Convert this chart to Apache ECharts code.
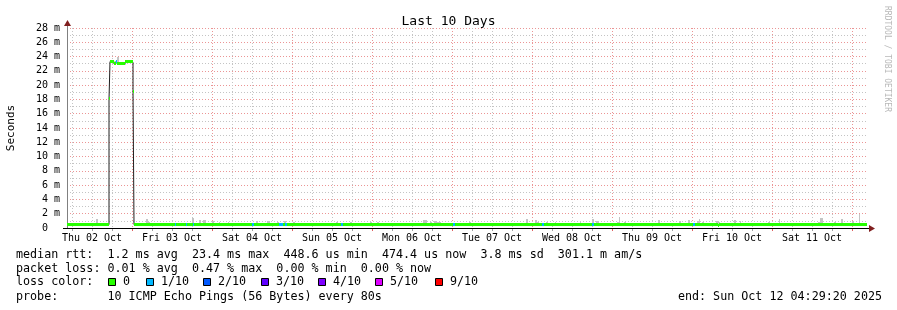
<!DOCTYPE html>
<html><head><meta charset="utf-8">
<script src="https://cdn.jsdelivr.net/npm/echarts@6/dist/echarts.min.js"></script>
<style>html,body{margin:0;padding:0;background:#fff}#c{width:897px;height:310px}</style>
</head><body><div id="c"></div>
<script>
// ---- data (x in hours since graph start, Thu 02 Oct 04:29:20) ----
const startClockHours = 4 + 29/60 + 20/3600;
const spanHours = 240;
const dayLabels = ['Thu 02 Oct','Fri 03 Oct','Sat 04 Oct','Sun 05 Oct','Mon 06 Oct','Tue 07 Oct','Wed 08 Oct','Thu 09 Oct','Fri 10 Oct','Sat 11 Oct'];
const yTickValues = [0,2,4,6,8,10,12,14,16,18,20,22,24,26,28];

// median rtt (ms): step segments starting at medianStart, loss index (0 = 0/10, 1 = 1/10)
const medianStart = [0, 12.6, 12.9, 14.1, 14.7, 15.0, 15.9, 17.4, 19.8, 20.1, 32.25, 32.7, 35.55, 36.0, 37.65, 37.95, 55.5, 56.0, 63.6, 64.8, 65.4, 66.0, 82.2, 82.8, 115.7, 116.4, 142.6, 143.0, 157.5, 158.0, 187.8, 188.4, 195.3, 195.6];
const medianValue = [0.47, 18.0, 23.3, 23.0, 23.3, 23.0, 22.9, 23.2, 19.0, 0.47, 0.47, 0.47, 0.47, 0.47, 0.47, 0.47, 0.47, 0.47, 0.47, 0.47, 0.47, 0.47, 0.47, 0.47, 0.47, 0.47, 0.47, 0.47, 0.47, 0.47, 0.47, 0.47, 0.32, 0.47];
const medianLoss  = [0, 0, 0, 0, 1, 0, 0, 0, 0, 0, 1, 0, 1, 0, 1, 0, 1, 0, 1, 0, 1, 0, 1, 0, 1, 0, 1, 0, 1, 0, 1, 0, 0, 0];

// smoke (ping spread): start hour, duration hours, low ms, high ms
const smokeStart = [8.7, 9.3, 15.0, 23.7, 24.3, 37.5, 39.6, 40.8, 43.5, 45.6, 48.3, 56.7, 60.0, 63.0, 65.1, 67.8, 80.7, 84.9, 90.9, 93.0, 106.8, 108.9, 110.1, 110.7, 120.6, 137.7, 140.4, 141.0, 143.7, 146.4, 153.9, 157.5, 158.7, 165.0, 165.6, 167.1, 177.3, 183.6, 186.3, 189.0, 189.6, 190.5, 194.7, 195.3, 200.1, 201.9, 210.3, 213.6, 225.3, 225.9, 230.1, 232.2, 235.5, 237.6];
const smokeSpan  = [0.6, 0.9, 0.6, 0.6, 0.6, 0.6, 0.6, 0.9, 0.6, 0.3, 0.3, 0.6, 0.9, 0.6, 0.6, 0.6, 0.6, 0.6, 0.6, 0.6, 1.2, 0.6, 0.6, 1.5, 0.6, 0.6, 0.6, 0.6, 0.6, 0.3, 0.3, 0.6, 0.9, 0.6, 0.3, 0.6, 0.6, 0.6, 0.6, 0.6, 0.3, 0.6, 0.6, 0.6, 0.6, 0.3, 0.6, 0.3, 0.6, 0.9, 0.6, 0.6, 0.6, 0.3];
const smokeLow   = [0.45, 0.45, 23.0, 0.45, 0.45, 0.45, 0.45, 0.45, 0.45, 0.45, 0.45, 0.45, 0.45, 0.45, 0.45, 0.45, 0.45, 0.45, 0.45, 0.45, 0.45, 0.45, 0.45, 0.45, 0.45, 0.45, 0.45, 0.45, 0.45, 0.45, 0.45, 0.45, 0.45, 0.45, 0.45, 0.45, 0.45, 0.45, 0.45, 0.45, 0.45, 0.45, 0.45, 0.45, 0.45, 0.45, 0.45, 0.45, 0.45, 0.45, 0.45, 0.45, 0.45, 0.45];
const smokeHigh  = [1.26, 0.74, 23.9, 1.26, 0.8, 1.4, 1.12, 1.12, 0.98, 0.8, 0.8, 0.98, 0.98, 0.84, 0.98, 0.84, 0.84, 0.8, 0.8, 0.84, 1.12, 0.8, 0.98, 0.8, 0.84, 1.26, 1.12, 0.84, 0.84, 0.8, 0.8, 1.26, 0.98, 0.84, 1.54, 0.84, 1.12, 0.98, 1.12, 0.98, 1.26, 0.8, 0.98, 0.8, 1.12, 0.98, 0.8, 1.26, 0.84, 1.4, 0.84, 1.26, 0.98, 1.96];

const lossLabels = ['0','1/10','2/10','3/10','4/10','5/10','9/10'];
const lossColors = ['#26ff00','#00b8ff','#0059ff','#5e00ff','#7e00ff','#dd00ff','#ff0000'];

const statsLines = [
  'median rtt:  1.2 ms avg  23.4 ms max  448.6 us min  474.4 us now  3.8 ms sd  301.1 m am/s',
  'packet loss: 0.01 % avg  0.47 % max  0.00 % min  0.00 % now',
  'loss color:',
  'probe:       10 ICMP Echo Pings (56 Bytes) every 80s'
];
const endText = 'end: Sun Oct 12 04:29:20 2025';

// ---- derived ----
const FONT = 'DejaVu Sans Mono';
const segs = medianStart.map((t, i) => [t, i + 1 < medianStart.length ? medianStart[i + 1] : spanHours, medianValue[i], medianLoss[i]]);
const blackLine = [];
segs.forEach(s => { blackLine.push([s[0], s[2]]); blackLine.push([s[1], s[2]]); });
const smokeData = smokeStart.map((t, i) => [t, t + smokeSpan[i], smokeLow[i], smokeHigh[i]]);

const firstMidnight = 24 - startClockHours;
const firstSix = 6 - startClockHours;
const gridData = [];
for (let t = firstSix; t <= spanHours + 1e-6; t += 6) {
  const k = (t - firstMidnight) / 24;
  gridData.push([t, Math.abs(k - Math.round(k)) < 1e-6 ? 1 : 0]);
}
const noonValues = dayLabels.map((_, i) => 12 - startClockHours + 24 * i);

const chart = echarts.init(document.getElementById('c'), null, {renderer: 'canvas'});

const graphics = [];
const rowY = [254.5, 268.5, 282, 296.5];
statsLines.forEach((s, i) => graphics.push({type: 'text', x: 16, y: rowY[i], style: {text: s, font: '11.7px "' + FONT + '"', fill: '#000', verticalAlign: 'middle', align: 'left'}}));
graphics.push({type: 'text', x: 882, y: rowY[3], style: {text: endText, font: '11.7px "' + FONT + '"', fill: '#000', verticalAlign: 'middle', align: 'right'}});
const boxX = [108, 146, 203, 261, 318, 375, 435];
lossLabels.forEach((l, i) => {
  graphics.push({type: 'rect', shape: {x: boxX[i] + 0.5, y: 278.5, width: 7, height: 7}, style: {fill: lossColors[i], stroke: '#000', lineWidth: 1}});
  graphics.push({type: 'text', x: boxX[i] + 15, y: rowY[2], style: {text: l, font: '11.7px "' + FONT + '"', fill: '#000', verticalAlign: 'middle'}});
});
// watermark
graphics.push({type: 'text', x: 887, y: 59, rotation: -Math.PI / 2, style: {text: 'RRDTOOL / TOBI OETIKER', font: '8px "' + FONT + '"', fill: '#b8b8b8', align: 'center', verticalAlign: 'middle'}});
// arrows and axis extensions
graphics.push({type: 'line', shape: {x1: 67.5, y1: 28, x2: 67.5, y2: 24}, style: {stroke: '#808080', lineWidth: 1}});
graphics.push({type: 'polygon', shape: {points: [[64, 26], [71, 26], [67.5, 20]]}, style: {fill: '#801f1f'}});
graphics.push({type: 'line', shape: {x1: 63, y1: 228.5, x2: 67, y2: 228.5}, style: {stroke: '#000', lineWidth: 1}});
graphics.push({type: 'line', shape: {x1: 867, y1: 228.5, x2: 870, y2: 228.5}, style: {stroke: '#000', lineWidth: 1}});
graphics.push({type: 'polygon', shape: {points: [[869, 225], [869, 232], [875, 228.5]]}, style: {fill: '#801f1f'}});

chart.setOption({
  animation: false,
  backgroundColor: '#fff',
  title: {text: 'Last 10 Days', left: 'center', top: 10, textStyle: {fontFamily: FONT, fontSize: 13, fontWeight: 'normal', color: '#000'}},
  grid: {left: 67, right: 30, top: 28, bottom: 82, containLabel: false, outerBoundsMode: 'none'},
  xAxis: {
    type: 'value', min: 0, max: spanHours,
    axisLine: {show: true, lineStyle: {color: '#000', width: 1}},
    axisTick: {show: false},
    splitLine: {show: false},
    axisLabel: {customValues: noonValues, margin: 5, fontFamily: FONT, fontSize: 10, color: '#000',
      formatter: v => dayLabels[Math.round((v - noonValues[0]) / 24)]}
  },
  yAxis: {
    type: 'value', min: 0, max: 28, interval: 2,
    axisLine: {show: true, lineStyle: {color: '#808080'}},
    axisTick: {show: false},
    axisLabel: {margin: 7, fontFamily: FONT, fontSize: 10, color: '#000', formatter: v => v === 0 ? '0  ' : v + ' m'},
    splitLine: {show: true, lineStyle: {color: '#eb9595', type: [1, 2]}},
    minorTick: {show: false, splitNumber: 2},
    minorSplitLine: {show: true, lineStyle: {color: '#c4c4c4', type: [1, 2]}},
    name: 'Seconds', nameLocation: 'middle', nameGap: 50, nameRotate: 90,
    nameTextStyle: {fontFamily: FONT, fontSize: 11, color: '#000'}
  },
  graphic: graphics,
  series: [
    {
      type: 'custom', z: 1, silent: true, clip: false,
      data: gridData,
      encode: {x: 0},
      renderItem: (params, api) => {
        const t = api.value(0), major = api.value(1);
        const top = api.coord([t, 28]), bot = api.coord([t, 0]);
        const x = Math.round(top[0]) + 0.5;
        return {type: 'group', children: [
          {type: 'line', shape: {x1: x, y1: top[1], x2: x, y2: bot[1]}, style: {stroke: major ? '#eb9595' : '#c4c4c4', lineWidth: 1, lineDash: [1, 2]}},
          {type: 'line', shape: {x1: x, y1: bot[1] + 1, x2: x, y2: bot[1] + 3}, style: {stroke: major ? '#e06060' : '#a0a0a0', lineWidth: 1}}
        ]};
      }
    },
    {
      type: 'custom', z: 2, silent: true,
      data: smokeData,
      encode: {x: [0, 1], y: [2, 3]},
      renderItem: (params, api) => {
        const a = api.coord([api.value(0), api.value(2)]);
        const b = api.coord([api.value(1), api.value(3)]);
        const x = Math.round(a[0]);
        const x2 = Math.max(Math.round(b[0]), x + 1);
        const y1 = Math.round(b[1]), y2 = Math.round(a[1]);
        return {type: 'rect', shape: {x: x, y: y1, width: x2 - x, height: Math.max(y2 - y1, 1)}, style: {fill: '#c4c4c4'}};
      }
    },
    {
      type: 'line', z: 3, silent: true, symbol: 'none',
      data: blackLine,
      lineStyle: {color: '#202020', width: 1}
    },
    {
      type: 'custom', z: 4, silent: true,
      data: segs,
      encode: {x: [0, 1], y: 2},
      renderItem: (params, api) => {
        const a = api.coord([api.value(0), api.value(2)]);
        const b = api.coord([api.value(1), api.value(2)]);
        const x = Math.round(a[0]);
        const x2 = Math.max(Math.round(b[0]), x + 1);
        const y = Math.round(a[1]) - 2;
        return {type: 'rect', shape: {x: x, y: y, width: x2 - x, height: 3}, style: {fill: lossColors[api.value(3)]}};
      }
    }
  ]
});
</script></body></html>
